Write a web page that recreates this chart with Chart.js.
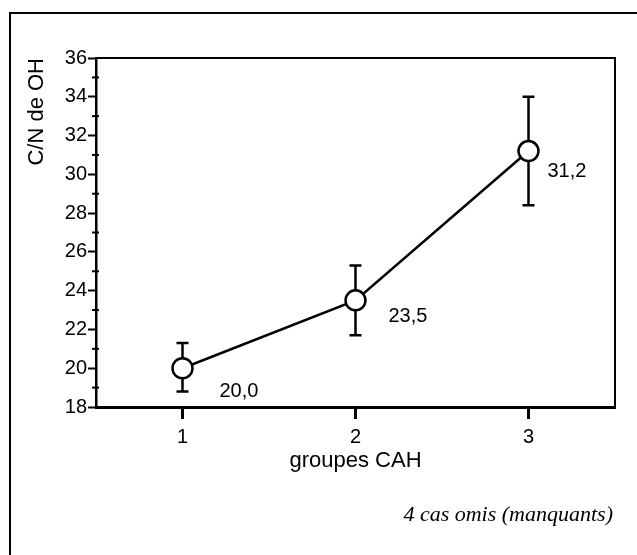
<!DOCTYPE html>
<html lang="fr">
<head>
  <meta charset="UTF-8" />
  <title>C/N de OH par groupes CAH</title>
  <script src="https://cdn.jsdelivr.net/npm/chart.js"></script>
  <style>body{margin:0;background:#fff;}canvas{display:block;}</style>
</head>
<body>
  <canvas id="chart" width="637" height="555"></canvas>
  <script>
    // values
    const groups = ['1', '2', '3'];
    const means = [20.0, 23.5, 31.2];
    const lows = [18.8, 21.7, 28.4];
    const highs = [21.3, 25.3, 34.0];
    const yTicks = [18, 20, 22, 24, 26, 28, 30, 32, 34, 36];
    const note = '4 cas omis (manquants)';

    // where each value label sits relative to its point (px)
    const labelShift = [[37, 23], [33, 16], [19, 20]];

    Chart.defaults.font.family = '"Liberation Sans", Arial, Helvetica, sans-serif';
    Chart.defaults.color = '#000';

    const decor = {
      id: 'decor',
      beforeDraw(c) {
        const ctx = c.ctx;
        ctx.save();
        ctx.strokeStyle = '#000';
        ctx.lineWidth = 2;
        ctx.beginPath();
        ctx.moveTo(10, 555); ctx.lineTo(10, 13); ctx.lineTo(637, 13);
        ctx.stroke();
        ctx.restore();
      },
      beforeDatasetsDraw(c) {
        const {ctx, scales: {x, y}, chartArea: a} = c;
        ctx.save();
        ctx.strokeStyle = '#000';
        // top and right sides of the plot box
        ctx.lineWidth = 2;
        ctx.beginPath();
        ctx.moveTo(a.left, a.top); ctx.lineTo(a.right, a.top); ctx.lineTo(a.right, a.bottom);
        ctx.stroke();
        // minor ticks on the y axis
        for (let v = yTicks[0] + 1; v < yTicks[yTicks.length - 1]; v += 2) {
          const py = y.getPixelForValue(v);
          ctx.beginPath(); ctx.moveTo(a.left - 4, py); ctx.lineTo(a.left + 3, py); ctx.stroke();
        }
        // error bars
        ctx.lineWidth = 2.5;
        means.forEach((m, i) => {
          const px = x.getPixelForValue(i);
          const y1 = y.getPixelForValue(lows[i]), y2 = y.getPixelForValue(highs[i]);
          ctx.beginPath();
          ctx.moveTo(px, y1); ctx.lineTo(px, y2);
          ctx.moveTo(px - 6, y1); ctx.lineTo(px + 6, y1);
          ctx.moveTo(px - 6, y2); ctx.lineTo(px + 6, y2);
          ctx.stroke();
        });
        ctx.restore();
      },
      afterDraw(c) {
        const {ctx, scales: {x, y}} = c;
        ctx.save();
        ctx.fillStyle = '#000';
        ctx.font = '20px "Liberation Sans", Arial, sans-serif';
        ctx.textBaseline = 'middle';
        ctx.textAlign = 'left';
        means.forEach((m, i) => {
          ctx.fillText(m.toFixed(1).replace('.', ','),
            x.getPixelForValue(i) + labelShift[i][0], y.getPixelForValue(m) + labelShift[i][1]);
        });
        ctx.font = 'italic 22px "Liberation Serif", "Times New Roman", serif';
        ctx.textAlign = 'right';
        ctx.fillText(note, 613, 515);
        ctx.restore();
      }
    };

    new Chart(document.getElementById('chart'), {
      type: 'line',
      data: {
        labels: groups,
        datasets: [{
          data: means,
          borderColor: '#000',
          borderWidth: 2.5,
          tension: 0,
          pointRadius: 10,
          pointHoverRadius: 10,
          pointBackgroundColor: '#fff',
          pointBorderColor: '#000',
          pointBorderWidth: 2.5
        }]
      },
      options: {
        responsive: false,
        animation: false,
        events: [],
        layout: { padding: { top: 58, right: 22, bottom: 78, left: 0 } },
        plugins: { legend: { display: false }, tooltip: { enabled: false } },
        scales: {
          x: {
            type: 'category',
            offset: true,
            ticks: { font: { size: 20 }, padding: 6 },
            grid: { drawOnChartArea: false, tickLength: 12, tickWidth: 3, tickColor: '#000' },
            border: { color: '#000', width: 3 },
            title: { display: true, text: 'groupes CAH', font: { size: 22 }, padding: { top: 0, bottom: 3 } },
            afterFit(s) { s.height = 70; }
          },
          y: {
            min: yTicks[0],
            max: yTicks[yTicks.length - 1],
            afterBuildTicks(s) { s.ticks = yTicks.map(v => ({ value: v })); },
            ticks: { font: { size: 20 }, padding: 1 },
            grid: { drawOnChartArea: false, tickLength: 8, tickWidth: 2, tickColor: '#000' },
            border: { color: '#000', width: 2.5 },
            title: { display: true, text: 'C/N de OH', align: 'end', font: { size: 22 }, padding: { top: 24, bottom: 0 } },
            afterFit(s) { s.width = 96; }
          }
        }
      },
      plugins: [decor]
    });
  </script>
</body>
</html>
